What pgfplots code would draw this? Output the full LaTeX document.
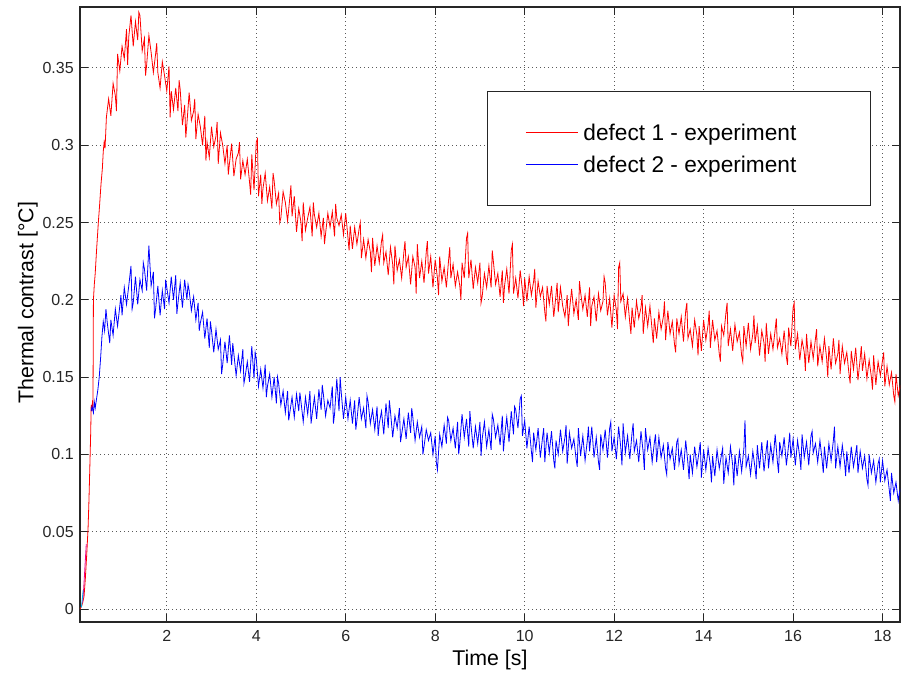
\documentclass[border=0pt]{standalone}
\usepackage{fontspec}
\setmainfont{Liberation Sans}
\usepackage{pgfplots}
\pgfplotsset{compat=1.18}

\begin{document}
\begin{tikzpicture}
\begin{axis}[
    scale only axis,
    width=615pt, height=461.25pt,
    xmin=0.06, xmax=18.39,
    ymin=-0.0084, ymax=0.3894,
    xtick={2,4,...,18},
    ytick={0,0.05,...,0.35},
    /pgf/number format/assume math mode=true,
    yticklabel style={/pgf/number format/fixed, /pgf/number format/precision=2},
    tick label style={font=\fontsize{12}{14}\selectfont, text=black!85},
    xticklabel style={inner sep=0pt, yshift=-6pt},
    yticklabel style={inner sep=0pt, xshift=-4.5pt},
    major tick length=6pt,
    tick style={black!85, line width=0.75pt},
    axis line style={black!85, line width=0.8pt},
    grid=major,
    major grid style={black!65, line width=0.7pt, dash pattern=on 0.75pt off 2.25pt},
    xlabel={Time [s]},
    ylabel={Thermal contrast [°C]},
    every axis x label/.style={at={(axis description cs:0.5,-0.061)}, anchor=center,
        font=\fontsize{16}{19}\selectfont},
    every axis y label/.style={at={(axis description cs:-0.0637,0.519)}, rotate=90, anchor=center,
        font=\fontsize{16}{19}\selectfont},
    legend style={at={(axis description cs:0.4963,0.8634)}, anchor=north west,
        draw=black!85, line width=0.75pt, inner xsep=28.5pt, inner ysep=24.85pt,
        font=\fontsize{17}{20}\selectfont, row sep=11.75pt,
        nodes={inner sep=0pt, text height=12pt, text depth=0pt},
        /tikz/every odd column/.append style={column sep=3.75pt}},
    legend cell align=left,
    legend image code/.code={\draw[#1, line width=0.75pt] (0pt,0pt) -- (39pt,0pt);},
]
\addplot[red, line width=0.6pt] coordinates {
(0.06,0) (0.10,0.002) (0.15,0.008) (0.18,0.02) (0.21,0.035) (0.24,0.052) (0.26,0.07) (0.28,0.092)
(0.30,0.115) (0.31,0.132) (0.33,0.128) (0.34,0.135) (0.35,0.13) (0.36,0.2) (0.38,0.21) (0.40,0.217)
(0.43,0.232) (0.45,0.241) (0.47,0.25) (0.50,0.262) (0.53,0.275) (0.56,0.285) (0.58,0.296) (0.60,0.302) (0.62,0.298)
(0.65,0.318) (0.70,0.330) (0.75,0.319) (0.80,0.340) (0.85,0.332) (0.875,0.322) (0.90,0.359) (0.95,0.348) (1.00,0.364)
(1.05,0.356) (1.10,0.375) (1.125,0.352) (1.15,0.370) (1.20,0.384) (1.25,0.364) (1.30,0.380) (1.35,0.368) (1.375,0.386) (1.40,0.384)
(1.45,0.361) (1.50,0.369) (1.525,0.345) (1.55,0.352) (1.60,0.371) (1.65,0.360) (1.70,0.347) (1.75,0.359) (1.775,0.366) (1.80,0.347)
(1.85,0.337) (1.90,0.354) (1.95,0.345) (2.00,0.335) (2.05,0.351) (2.075,0.318) (2.10,0.335) (2.15,0.323) (2.20,0.337)
(2.25,0.322) (2.275,0.342) (2.30,0.336) (2.35,0.313) (2.40,0.326) (2.425,0.305) (2.45,0.314) (2.50,0.334) (2.55,0.316) (2.60,0.322)
(2.625,0.330) (2.65,0.304) (2.70,0.320) (2.75,0.312) (2.80,0.300) (2.85,0.319) (2.875,0.290) (2.90,0.302) (2.95,0.292) (3.00,0.312)
(3.05,0.299) (3.10,0.306) (3.125,0.315) (3.15,0.288) (3.20,0.308) (3.25,0.300) (3.30,0.288) (3.35,0.300) (3.375,0.281) (3.40,0.288)
(3.45,0.301) (3.50,0.280) (3.55,0.291) (3.60,0.295) (3.625,0.302) (3.65,0.278) (3.70,0.290) (3.75,0.281) (3.80,0.291)
(3.85,0.276) (3.875,0.268) (3.90,0.294) (3.95,0.271) (4.00,0.302) (4.025,0.304) (4.05,0.267) (4.10,0.281) (4.125,0.262) (4.15,0.272) (4.20,0.282)
(4.25,0.264) (4.30,0.273) (4.35,0.259) (4.375,0.282) (4.40,0.277) (4.45,0.262) (4.50,0.269) (4.525,0.250) (4.55,0.253) (4.60,0.270)
(4.65,0.263) (4.70,0.251) (4.75,0.266) (4.775,0.274) (4.80,0.254) (4.85,0.267) (4.90,0.244) (4.95,0.259) (5.00,0.250)
(5.025,0.238) (5.05,0.263) (5.10,0.245) (5.15,0.253) (5.20,0.260) (5.25,0.241) (5.275,0.263) (5.30,0.255) (5.35,0.247) (5.40,0.256)
(5.45,0.241) (5.50,0.253) (5.525,0.236) (5.55,0.243) (5.60,0.256) (5.65,0.247) (5.70,0.257) (5.75,0.241) (5.775,0.262) (5.80,0.253)
(5.85,0.248) (5.90,0.255) (5.95,0.242) (6.00,0.256) (6.05,0.240) (6.075,0.232) (6.10,0.248) (6.15,0.233) (6.20,0.247)
(6.25,0.236) (6.30,0.246) (6.325,0.250) (6.35,0.227) (6.40,0.239) (6.45,0.227) (6.50,0.239) (6.55,0.231) (6.575,0.218) (6.60,0.240)
(6.65,0.222) (6.70,0.235) (6.75,0.224) (6.80,0.238) (6.825,0.242) (6.85,0.224) (6.90,0.231) (6.95,0.216) (7.00,0.234)
(7.05,0.223) (7.075,0.210) (7.10,0.235) (7.15,0.219) (7.20,0.226) (7.25,0.214) (7.30,0.231) (7.325,0.238) (7.35,0.221) (7.40,0.228)
(7.45,0.210) (7.50,0.228) (7.55,0.221) (7.575,0.204) (7.60,0.236) (7.65,0.214) (7.70,0.225) (7.75,0.211) (7.80,0.231)
(7.825,0.238) (7.85,0.217) (7.90,0.228) (7.95,0.208) (8.00,0.226) (8.05,0.214) (8.075,0.203) (8.10,0.228) (8.15,0.212) (8.20,0.221)
(8.25,0.208) (8.30,0.226) (8.325,0.234) (8.35,0.214) (8.40,0.223) (8.45,0.209) (8.50,0.218) (8.55,0.209) (8.575,0.200) (8.60,0.224)
(8.65,0.214) (8.70,0.240) (8.725,0.243) (8.75,0.214) (8.80,0.226) (8.85,0.207) (8.90,0.221) (8.95,0.211) (9.00,0.224)
(9.025,0.198) (9.05,0.202) (9.10,0.217) (9.15,0.208) (9.20,0.222) (9.25,0.208) (9.275,0.232) (9.30,0.225) (9.35,0.210) (9.40,0.217)
(9.45,0.202) (9.50,0.219) (9.525,0.198) (9.55,0.209) (9.60,0.220) (9.65,0.204) (9.70,0.232) (9.725,0.236) (9.75,0.204) (9.80,0.214)
(9.85,0.201) (9.90,0.219) (9.95,0.206) (9.975,0.196) (10.00,0.214) (10.05,0.199) (10.10,0.215) (10.15,0.203) (10.20,0.212)
(10.225,0.220) (10.25,0.195) (10.30,0.212) (10.35,0.202) (10.40,0.208) (10.45,0.192) (10.475,0.186) (10.50,0.209) (10.55,0.197) (10.60,0.209)
(10.65,0.189) (10.70,0.203) (10.725,0.211) (10.75,0.192) (10.80,0.208) (10.85,0.196) (10.90,0.189) (10.95,0.203) (10.975,0.183) (11.00,0.193)
(11.05,0.207) (11.10,0.191) (11.15,0.200) (11.20,0.187) (11.225,0.212) (11.25,0.205) (11.30,0.194) (11.35,0.203) (11.40,0.189)
(11.45,0.208) (11.475,0.183) (11.50,0.196) (11.55,0.202) (11.60,0.186) (11.65,0.204) (11.70,0.193) (11.75,0.199) (11.775,0.215) (11.80,0.211)
(11.85,0.190) (11.90,0.201) (11.95,0.182) (12.00,0.203) (12.05,0.193) (12.075,0.181) (12.10,0.221) (12.125,0.224) (12.15,0.199) (12.20,0.204)
(12.25,0.189) (12.30,0.201) (12.35,0.185) (12.375,0.178) (12.40,0.195) (12.45,0.182) (12.50,0.199) (12.55,0.188) (12.60,0.195)
(12.625,0.203) (12.65,0.178) (12.70,0.195) (12.75,0.183) (12.80,0.196) (12.85,0.180) (12.875,0.172) (12.90,0.188) (12.95,0.175) (13.00,0.192)
(13.05,0.181) (13.10,0.189) (13.125,0.199) (13.15,0.174) (13.20,0.193) (13.25,0.178) (13.30,0.186) (13.35,0.171) (13.375,0.166) (13.40,0.188)
(13.45,0.178) (13.50,0.189) (13.55,0.173) (13.60,0.193) (13.625,0.198) (13.65,0.175) (13.70,0.181) (13.75,0.170) (13.80,0.187)
(13.85,0.177) (13.875,0.164) (13.90,0.183) (13.95,0.167) (14.00,0.187) (14.05,0.174) (14.10,0.184) (14.125,0.193) (14.15,0.169) (14.20,0.187)
(14.25,0.174) (14.30,0.180) (14.35,0.165) (14.375,0.160) (14.40,0.183) (14.45,0.177) (14.50,0.192) (14.525,0.198) (14.55,0.170) (14.60,0.181)
(14.65,0.167) (14.70,0.184) (14.75,0.173) (14.80,0.179) (14.85,0.164) (14.875,0.160) (14.90,0.183) (14.95,0.170) (15.00,0.185)
(15.05,0.168) (15.10,0.178) (15.125,0.190) (15.15,0.172) (15.20,0.183) (15.25,0.164) (15.30,0.180) (15.35,0.172) (15.375,0.160) (15.40,0.185)
(15.45,0.165) (15.50,0.178) (15.55,0.168) (15.60,0.181) (15.625,0.188) (15.65,0.169) (15.70,0.175) (15.75,0.165) (15.80,0.180)
(15.85,0.163) (15.875,0.158) (15.90,0.182) (15.95,0.170) (16.00,0.195) (16.025,0.198) (16.05,0.168) (16.10,0.178) (16.15,0.161) (16.20,0.174)
(16.25,0.166) (16.275,0.154) (16.30,0.178) (16.35,0.159) (16.40,0.173) (16.45,0.162) (16.50,0.175) (16.525,0.181) (16.55,0.157) (16.60,0.170)
(16.65,0.160) (16.70,0.175) (16.75,0.162) (16.775,0.150) (16.80,0.170) (16.85,0.155) (16.90,0.175) (16.95,0.159) (17.00,0.165)
(17.025,0.174) (17.05,0.152) (17.10,0.170) (17.15,0.159) (17.20,0.166) (17.25,0.152) (17.275,0.146) (17.30,0.167) (17.35,0.155) (17.40,0.169)
(17.45,0.148) (17.50,0.162) (17.525,0.170) (17.55,0.154) (17.60,0.165) (17.65,0.149) (17.70,0.161) (17.75,0.150) (17.775,0.142) (17.80,0.164)
(17.85,0.145) (17.90,0.160) (17.95,0.151) (18.00,0.161) (18.025,0.166) (18.05,0.144) (18.10,0.157) (18.15,0.145) (18.20,0.153)
(18.25,0.138) (18.275,0.134) (18.30,0.152) (18.35,0.138) (18.40,0.145)
};
\addlegendentry{\makebox[186.75pt][l]{defect 1 - experiment}}
\addplot[blue, line width=0.6pt] coordinates {
(0.31,0.128) (0.33,0.131) (0.36,0.127) (0.38,0.134) (0.40,0.130) (0.43,0.136) (0.46,0.142) (0.49,0.150)
(0.52,0.162) (0.55,0.176) (0.58,0.186) (0.61,0.180) (0.64,0.194) (0.67,0.185)
(0.70,0.178) (0.725,0.172) (0.75,0.187) (0.80,0.177) (0.85,0.194) (0.90,0.183) (0.95,0.196) (0.975,0.203) (1.00,0.190) (1.05,0.208)
(1.10,0.197) (1.15,0.209) (1.20,0.222) (1.225,0.194) (1.25,0.198) (1.30,0.215) (1.35,0.197) (1.40,0.213) (1.45,0.206) (1.475,0.224)
(1.50,0.220) (1.55,0.206) (1.60,0.235) (1.65,0.209) (1.70,0.218) (1.725,0.188) (1.75,0.194) (1.80,0.209) (1.85,0.190)
(1.90,0.206) (1.95,0.194) (1.975,0.213) (2.00,0.208) (2.05,0.198) (2.10,0.215) (2.15,0.200) (2.20,0.216) (2.225,0.191) (2.25,0.198)
(2.30,0.211) (2.35,0.195) (2.40,0.213) (2.45,0.200) (2.475,0.210) (2.50,0.206) (2.55,0.193) (2.60,0.202) (2.65,0.187)
(2.70,0.198) (2.725,0.180) (2.75,0.185) (2.80,0.192) (2.85,0.175) (2.90,0.188) (2.95,0.169) (2.975,0.186) (3.00,0.180) (3.05,0.166)
(3.10,0.181) (3.15,0.168) (3.20,0.174) (3.225,0.152) (3.25,0.158) (3.30,0.173) (3.35,0.159) (3.40,0.177) (3.45,0.158) (3.475,0.172)
(3.50,0.165) (3.55,0.151) (3.60,0.164) (3.65,0.154) (3.70,0.168) (3.725,0.146) (3.75,0.150) (3.80,0.160) (3.85,0.147)
(3.90,0.170) (3.95,0.149) (3.975,0.166) (4.00,0.162) (4.05,0.144) (4.10,0.155) (4.15,0.143) (4.20,0.158) (4.225,0.137) (4.25,0.144)
(4.30,0.152) (4.35,0.137) (4.40,0.150) (4.45,0.133) (4.475,0.150) (4.50,0.146) (4.55,0.132) (4.60,0.141) (4.65,0.127)
(4.70,0.141) (4.725,0.122) (4.75,0.127) (4.80,0.137) (4.85,0.124) (4.90,0.139) (4.95,0.128) (4.975,0.140) (5.00,0.134) (5.05,0.121)
(5.10,0.137) (5.15,0.126) (5.20,0.141) (5.225,0.120) (5.25,0.126) (5.30,0.137) (5.35,0.123) (5.40,0.142) (5.45,0.129) (5.475,0.145)
(5.50,0.139) (5.55,0.125) (5.60,0.135) (5.65,0.130) (5.70,0.144) (5.725,0.120) (5.75,0.126) (5.80,0.149) (5.85,0.128) (5.875,0.150)
(5.90,0.140) (5.95,0.123) (6.00,0.137) (6.05,0.123) (6.10,0.135) (6.15,0.120) (6.20,0.135) (6.225,0.116) (6.25,0.122)
(6.30,0.137) (6.35,0.123) (6.40,0.130) (6.45,0.117) (6.475,0.138) (6.50,0.134) (6.55,0.120) (6.60,0.129) (6.65,0.116)
(6.70,0.131) (6.725,0.112) (6.75,0.120) (6.80,0.128) (6.85,0.113) (6.90,0.133) (6.95,0.117) (6.975,0.135) (7.00,0.128) (7.05,0.111)
(7.10,0.125) (7.15,0.117) (7.20,0.130) (7.225,0.108) (7.25,0.113) (7.30,0.123) (7.35,0.110) (7.40,0.127) (7.45,0.114) (7.475,0.130)
(7.50,0.124) (7.55,0.109) (7.60,0.121) (7.65,0.111) (7.70,0.118) (7.725,0.100) (7.75,0.105) (7.80,0.116) (7.85,0.109)
(7.90,0.114) (7.95,0.100) (8.00,0.112) (8.025,0.095) (8.05,0.090) (8.10,0.113) (8.15,0.105) (8.20,0.119) (8.25,0.107) (8.275,0.124)
(8.30,0.122) (8.35,0.109) (8.40,0.117) (8.45,0.104) (8.50,0.121) (8.525,0.100) (8.55,0.107) (8.60,0.126) (8.65,0.111)
(8.70,0.123) (8.75,0.105) (8.775,0.128) (8.80,0.119) (8.85,0.104) (8.90,0.118) (8.95,0.107) (9.00,0.121) (9.025,0.099) (9.05,0.110)
(9.10,0.121) (9.15,0.105) (9.20,0.116) (9.25,0.103) (9.275,0.126) (9.30,0.123) (9.35,0.111) (9.40,0.119) (9.45,0.106)
(9.50,0.125) (9.525,0.102) (9.55,0.111) (9.60,0.124) (9.65,0.108) (9.70,0.128) (9.75,0.113) (9.775,0.131) (9.80,0.129) (9.85,0.117)
(9.90,0.136) (9.925,0.138) (9.95,0.112) (10.00,0.122) (10.05,0.104) (10.10,0.118) (10.15,0.102) (10.175,0.095) (10.20,0.114) (10.25,0.103)
(10.30,0.117) (10.35,0.098) (10.40,0.111) (10.425,0.117) (10.45,0.095) (10.50,0.114) (10.55,0.101) (10.60,0.115) (10.65,0.096) (10.675,0.091)
(10.70,0.109) (10.75,0.100) (10.80,0.116) (10.85,0.102) (10.90,0.111) (10.925,0.119) (10.95,0.094) (11.00,0.114) (11.05,0.104)
(11.10,0.110) (11.15,0.097) (11.175,0.092) (11.20,0.117) (11.25,0.099) (11.30,0.112) (11.35,0.096) (11.40,0.109) (11.425,0.118) (11.45,0.102)
(11.50,0.118) (11.55,0.098) (11.60,0.111) (11.65,0.095) (11.675,0.090) (11.70,0.113) (11.75,0.103) (11.80,0.116) (11.85,0.098)
(11.90,0.117) (11.925,0.121) (11.95,0.102) (12.00,0.111) (12.05,0.097) (12.10,0.118) (12.15,0.104) (12.175,0.093) (12.20,0.120) (12.25,0.101)
(12.30,0.112) (12.35,0.097) (12.40,0.114) (12.425,0.120) (12.45,0.102) (12.50,0.109) (12.55,0.095) (12.60,0.115) (12.65,0.101) (12.675,0.090)
(12.70,0.117) (12.75,0.103) (12.80,0.111) (12.85,0.095) (12.90,0.108) (12.925,0.113) (12.95,0.095) (13.00,0.111) (13.05,0.098)
(13.10,0.106) (13.15,0.091) (13.175,0.087) (13.20,0.108) (13.25,0.097) (13.30,0.104) (13.35,0.090) (13.40,0.108) (13.425,0.110) (13.45,0.094)
(13.50,0.103) (13.55,0.090) (13.60,0.109) (13.65,0.094) (13.675,0.084) (13.70,0.100) (13.75,0.088) (13.80,0.105) (13.85,0.092)
(13.90,0.102) (13.925,0.108) (13.95,0.085) (14.00,0.103) (14.05,0.090) (14.10,0.104) (14.15,0.093) (14.175,0.082) (14.20,0.099) (14.25,0.086)
(14.30,0.103) (14.35,0.091) (14.40,0.100) (14.425,0.104) (14.45,0.081) (14.50,0.098) (14.55,0.088) (14.60,0.105) (14.65,0.093) (14.675,0.080)
(14.70,0.100) (14.75,0.086) (14.80,0.102) (14.85,0.089) (14.90,0.104) (14.925,0.122) (14.95,0.092) (15.00,0.099) (15.05,0.087)
(15.10,0.102) (15.15,0.091) (15.175,0.084) (15.20,0.106) (15.25,0.091) (15.30,0.108) (15.35,0.089) (15.40,0.103) (15.425,0.109) (15.45,0.091)
(15.50,0.106) (15.55,0.095) (15.60,0.113) (15.65,0.095) (15.675,0.088) (15.70,0.108) (15.75,0.099) (15.80,0.111) (15.85,0.093)
(15.90,0.106) (15.925,0.114) (15.95,0.098) (16.00,0.110) (16.05,0.093) (16.10,0.109) (16.15,0.098) (16.175,0.090) (16.20,0.113) (16.25,0.098)
(16.30,0.108) (16.35,0.093) (16.40,0.112) (16.425,0.115) (16.45,0.101) (16.50,0.107) (16.55,0.095) (16.60,0.109) (16.65,0.096) (16.675,0.088)
(16.70,0.105) (16.75,0.091) (16.80,0.107) (16.85,0.096) (16.90,0.109) (16.925,0.118) (16.95,0.091) (17.00,0.105) (17.05,0.092)
(17.10,0.106) (17.15,0.095) (17.175,0.086) (17.20,0.102) (17.25,0.088) (17.30,0.105) (17.35,0.092) (17.40,0.101) (17.425,0.106) (17.45,0.088)
(17.50,0.102) (17.55,0.091) (17.60,0.099) (17.65,0.084) (17.675,0.080) (17.70,0.100) (17.75,0.088) (17.80,0.096) (17.85,0.082)
(17.90,0.094) (17.925,0.097) (17.95,0.082) (18.00,0.096) (18.05,0.083) (18.10,0.090) (18.15,0.077) (18.175,0.070) (18.20,0.088) (18.25,0.075)
(18.30,0.082) (18.35,0.070) (18.375,0.075) (18.40,0.078)
};
\addlegendentry{\makebox[186.75pt][l]{defect 2 - experiment}}
\addplot[magenta, line width=0.6pt, forget plot] coordinates {
(0.12,0.004) (0.14,0.012) (0.16,0.022) (0.18,0.032) (0.20,0.042)
};
\addplot[cyan, line width=0.6pt, forget plot] coordinates {
(0.09,0.001) (0.11,0.006) (0.13,0.012)
};
\end{axis}
\pgfresetboundingbox
\path[use as bounding box] ([shift={(-60pt,-37.5pt)}]current axis.south west) rectangle ([shift={(0.75pt,5.25pt)}]current axis.north east);
\end{tikzpicture}
\end{document}
